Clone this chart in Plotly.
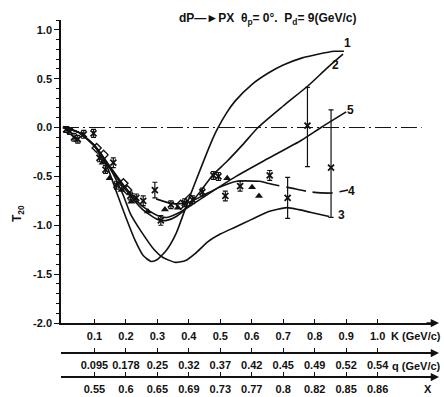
import plotly.graph_objects as go

# ---- abscissa scales: K, q and x share the same tick positions ----
k_ticks = [0.1, 0.2, 0.3, 0.4, 0.5, 0.6, 0.7, 0.8, 0.9, 1.0]
k_labels = ["0.1", "0.2", "0.3", "0.4", "0.5", "0.6", "0.7", "0.8", "0.9", "1.0"]
q_labels = ["0.095", "0.178", "0.25", "0.32", "0.37", "0.42", "0.45", "0.49", "0.52", "0.54"]
x_labels = ["0.55", "0.6", "0.65", "0.69", "0.73", "0.77", "0.8", "0.82", "0.85", "0.86"]
t_ticks = [1.0, 0.5, 0.0, -0.5, -1.0, -1.5, -2.0]
t_labels = ["1.0", "0.5", "0.0", "-0.5", "-1.0", "-1.5", "-2.0"]

# ---- model curves T20(K) ----
c1_k = [0.0, 0.05, 0.10, 0.14, 0.17, 0.20, 0.23, 0.255, 0.28, 0.30, 0.33, 0.36, 0.40, 0.44, 0.47,
        0.49, 0.52, 0.547, 0.60, 0.654, 0.70, 0.758, 0.81, 0.862, 0.893]
c1_t = [0.0, -0.05, -0.19, -0.40, -0.66, -0.92, -1.16, -1.31, -1.37, -1.35, -1.25, -1.08, -0.73, -0.40, -0.16,
        -0.02, 0.15, 0.27, 0.44, 0.56, 0.64, 0.71, 0.75, 0.78, 0.78]

c2_k = [0.0, 0.05, 0.10, 0.15, 0.20, 0.25, 0.30, 0.33, 0.36, 0.40, 0.44, 0.475, 0.52, 0.57, 0.62,
        0.70, 0.78, 0.84, 0.89]
c2_t = [0.0, -0.05, -0.19, -0.42, -0.64, -0.83, -0.94, -0.95, -0.91, -0.80, -0.64, -0.49, -0.35, -0.18, 0.0,
        0.22, 0.43, 0.61, 0.75]

c3_k = [0.0, 0.05, 0.10, 0.15, 0.19, 0.214, 0.25, 0.29, 0.318, 0.358, 0.39, 0.42, 0.46, 0.50, 0.547,
        0.60, 0.654, 0.711, 0.75, 0.789, 0.846]
c3_t = [0.0, -0.05, -0.19, -0.42, -0.68, -0.88, -1.07, -1.25, -1.33, -1.38, -1.36, -1.29, -1.17, -1.09, -1.02,
        -0.94, -0.86, -0.82, -0.84, -0.87, -0.91]

c4_k = [0.296, 0.349, 0.396, 0.443, 0.491, 0.553, 0.626]
c4_t = [-0.73, -0.78, -0.77, -0.70, -0.62, -0.55, -0.55]
c4_tail_k = [0.626, 0.664, 0.726, 0.789, 0.852, 0.906]
c4_tail_t = [-0.55, -0.58, -0.62, -0.66, -0.67, -0.64]

c5_k = [0.0, 0.05, 0.10, 0.15, 0.20, 0.25, 0.30, 0.33, 0.37, 0.41, 0.443, 0.55, 0.65, 0.758, 0.82, 0.90]
c5_t = [0.0, -0.05, -0.18, -0.40, -0.62, -0.80, -0.90, -0.92, -0.87, -0.79, -0.72, -0.50, -0.32, -0.13, 0.0, 0.16]

# ---- measured points ----
cross_k = [0.010, 0.022, 0.035, 0.047, 0.066, 0.097, 0.116, 0.135, 0.160, 0.170, 0.214, 0.233, 0.255,
           0.292, 0.311, 0.343, 0.387, 0.412, 0.443, 0.478, 0.494, 0.516, 0.563, 0.657, 0.714, 0.777, 0.852]
cross_t = [-0.02, -0.04, -0.10, -0.12, -0.07, -0.06, -0.31, -0.43, -0.36, -0.59, -0.70, -0.72, -0.75,
           -0.64, -0.95, -0.79, -0.77, -0.74, -0.66, -0.49, -0.50, -0.70, -0.60, -0.49, -0.72, 0.02, -0.41]
cross_eup = [0.03, 0.03, 0.04, 0.04, 0.04, 0.04, 0.04, 0.04, 0.05, 0.04, 0.04, 0.04, 0.05,
             0.08, 0.05, 0.04, 0.04, 0.04, 0.04, 0.04, 0.04, 0.05, 0.05, 0.05, 0.21, 0.39, 0.59]
cross_edn = [0.03, 0.03, 0.04, 0.04, 0.04, 0.04, 0.04, 0.04, 0.05, 0.04, 0.04, 0.04, 0.05,
             0.08, 0.05, 0.04, 0.04, 0.04, 0.04, 0.04, 0.04, 0.05, 0.05, 0.05, 0.21, 0.42, 0.51]

tri_k = [0.126, 0.148, 0.186, 0.217, 0.270, 0.324, 0.365, 0.522, 0.601, 0.623]
tri_t = [-0.36, -0.52, -0.64, -0.76, -0.86, -0.84, -0.82, -0.52, -0.61, -0.70]

dia_k = [0.107, 0.129, 0.192, 0.204, 0.374, 0.403]
dia_t = [-0.21, -0.28, -0.57, -0.64, -0.79, -0.73]

# curve numbers and where they sit
lab_text = ["1", "2", "3", "4", "5"]
lab_k = [0.905, 0.865, 0.886, 0.918, 0.915]
lab_t = [0.86, 0.64, -0.90, -0.65, 0.18]

FONT = "Liberation Sans, Arial, sans-serif"
INK = "#111111"

# figure geometry (pixels)
W, H = 444, 397
ML, MR, MT, MB = 61, 9, 20, 8
PW, PH = W - ML - MR, H - MT - MB


def px(x):
    return (x - ML) / PW


def py(y):
    return (H - MB - y) / PH


fig = go.Figure()

# zero reference line
fig.add_trace(go.Scatter(x=[0.0, 1.14], y=[0.0, 0.0], mode="lines",
                         line=dict(color=INK, width=1, dash="16px,4px,2px,4px"), hoverinfo="skip"))

curve_line = dict(color=INK, width=1.6, shape="spline", smoothing=0.6)
for ks, ts in [(c1_k, c1_t), (c2_k, c2_t), (c3_k, c3_t), (c5_k, c5_t), (c4_k, c4_t)]:
    fig.add_trace(go.Scatter(x=ks, y=ts, mode="lines", line=curve_line, hoverinfo="skip"))
fig.add_trace(go.Scatter(x=c4_tail_k, y=c4_tail_t, mode="lines",
                         line=dict(color=INK, width=1.6, shape="spline", smoothing=0.6, dash="20px,7px"),
                         hoverinfo="skip"))

fig.add_trace(go.Scatter(
    x=cross_k, y=cross_t, mode="markers",
    marker=dict(symbol="x-thin", size=6, color=INK, line=dict(color=INK, width=1.8)),
    error_y=dict(type="data", symmetric=False, array=cross_eup, arrayminus=cross_edn,
                 color=INK, thickness=1.2, width=2.5)))
fig.add_trace(go.Scatter(
    x=tri_k, y=tri_t, mode="markers",
    marker=dict(symbol="triangle-up", size=7, color=INK)))
fig.add_trace(go.Scatter(
    x=dia_k, y=dia_t, mode="markers",
    marker=dict(symbol="diamond-open", size=7, color=INK, line=dict(color=INK, width=1.4))))

# placeholders so the q and x scales are laid out
fig.add_trace(go.Scatter(x=[None], y=[None], xaxis="x2", yaxis="y", hoverinfo="skip"))
fig.add_trace(go.Scatter(x=[None], y=[None], xaxis="x3", yaxis="y", hoverinfo="skip"))

k_range = [-0.0063, 1.1824]
axis_common = dict(range=k_range, showgrid=False, zeroline=False, showline=True, linecolor=INK,
                   linewidth=1.5, ticks="inside", ticklen=4, tickwidth=1.2, tickcolor=INK,
                   tickmode="array", tickvals=k_ticks, ticklabelstandoff=2, tickangle=0,
                   automargin=False,
                   tickfont=dict(family=FONT, size=11, color=INK, weight="bold"))

fig.update_layout(
    width=W, height=H, margin=dict(l=ML, r=MR, t=MT, b=MB, autoexpand=False),
    paper_bgcolor="white", plot_bgcolor="white", showlegend=False,
    font=dict(family=FONT, size=11, color=INK),
    xaxis=dict(axis_common, ticktext=k_labels, anchor="y", domain=[0, 1]),
    xaxis2=dict(axis_common, ticktext=q_labels, overlaying="x", anchor="free", position=py(353)),
    xaxis3=dict(axis_common, ticktext=x_labels, overlaying="x", anchor="free", position=py(377)),
    yaxis=dict(domain=[py(323), 1], range=[-2.0, 1.1], showgrid=False, zeroline=False,
               showline=True, linecolor=INK, linewidth=1.5, automargin=False,
               ticks="outside", ticklen=5, tickwidth=1.2, tickcolor=INK,
               tickmode="array", tickvals=t_ticks, ticktext=t_labels,
               minor=dict(tickmode="linear", tick0=0.0, dtick=0.1, ticks="outside", ticklen=3,
                          tickcolor=INK, tickwidth=1),
               tickfont=dict(family=FONT, size=11, color=INK, weight="bold")),
)

ann = []
# arrow heads at the right end of the three horizontal scales
for yy in (323, 353, 377):
    ann.append(dict(x=px(439), y=py(yy), xref="paper", yref="paper", text="", showarrow=True,
                    ax=-14, ay=0, arrowhead=2, arrowsize=1.1, arrowwidth=1.5, arrowcolor=INK))
# scale names
for txt, xx, yy in (("K (GeV/c)", 416, 336), ("q (GeV/c)", 416, 366), ("X", 428, 389)):
    ann.append(dict(x=px(xx), y=py(yy), xref="paper", yref="paper", text=txt, showarrow=False,
                    xanchor="center", yanchor="middle",
                    font=dict(family=FONT, size=11, color=INK, weight="bold")))
# heading
ann.append(dict(x=px(267), y=py(19), xref="paper", yref="paper", showarrow=False,
                xanchor="center", yanchor="middle",
                text="dP\u2014\u25baPX  \u03b8<sub>p</sub>= 0\u00b0.  P<sub>d</sub>= 9(GeV/c)",
                font=dict(family=FONT, size=12, color=INK, weight="bold")))
# ordinate name
ann.append(dict(x=px(18), y=py(214), xref="paper", yref="paper", showarrow=False, textangle=-90,
                xanchor="center", yanchor="middle",
                text="T<sub>20</sub>", font=dict(family=FONT, size=12, color=INK, weight="bold")))
# curve numbers
for t, k, v in zip(lab_text, lab_k, lab_t):
    ann.append(dict(x=k, y=v, xref="x", yref="y", text=t, showarrow=False,
                    xanchor="center", yanchor="middle",
                    font=dict(family=FONT, size=12, color=INK, weight="bold")))
fig.update_layout(annotations=ann)

fig.write_html("out.html")
